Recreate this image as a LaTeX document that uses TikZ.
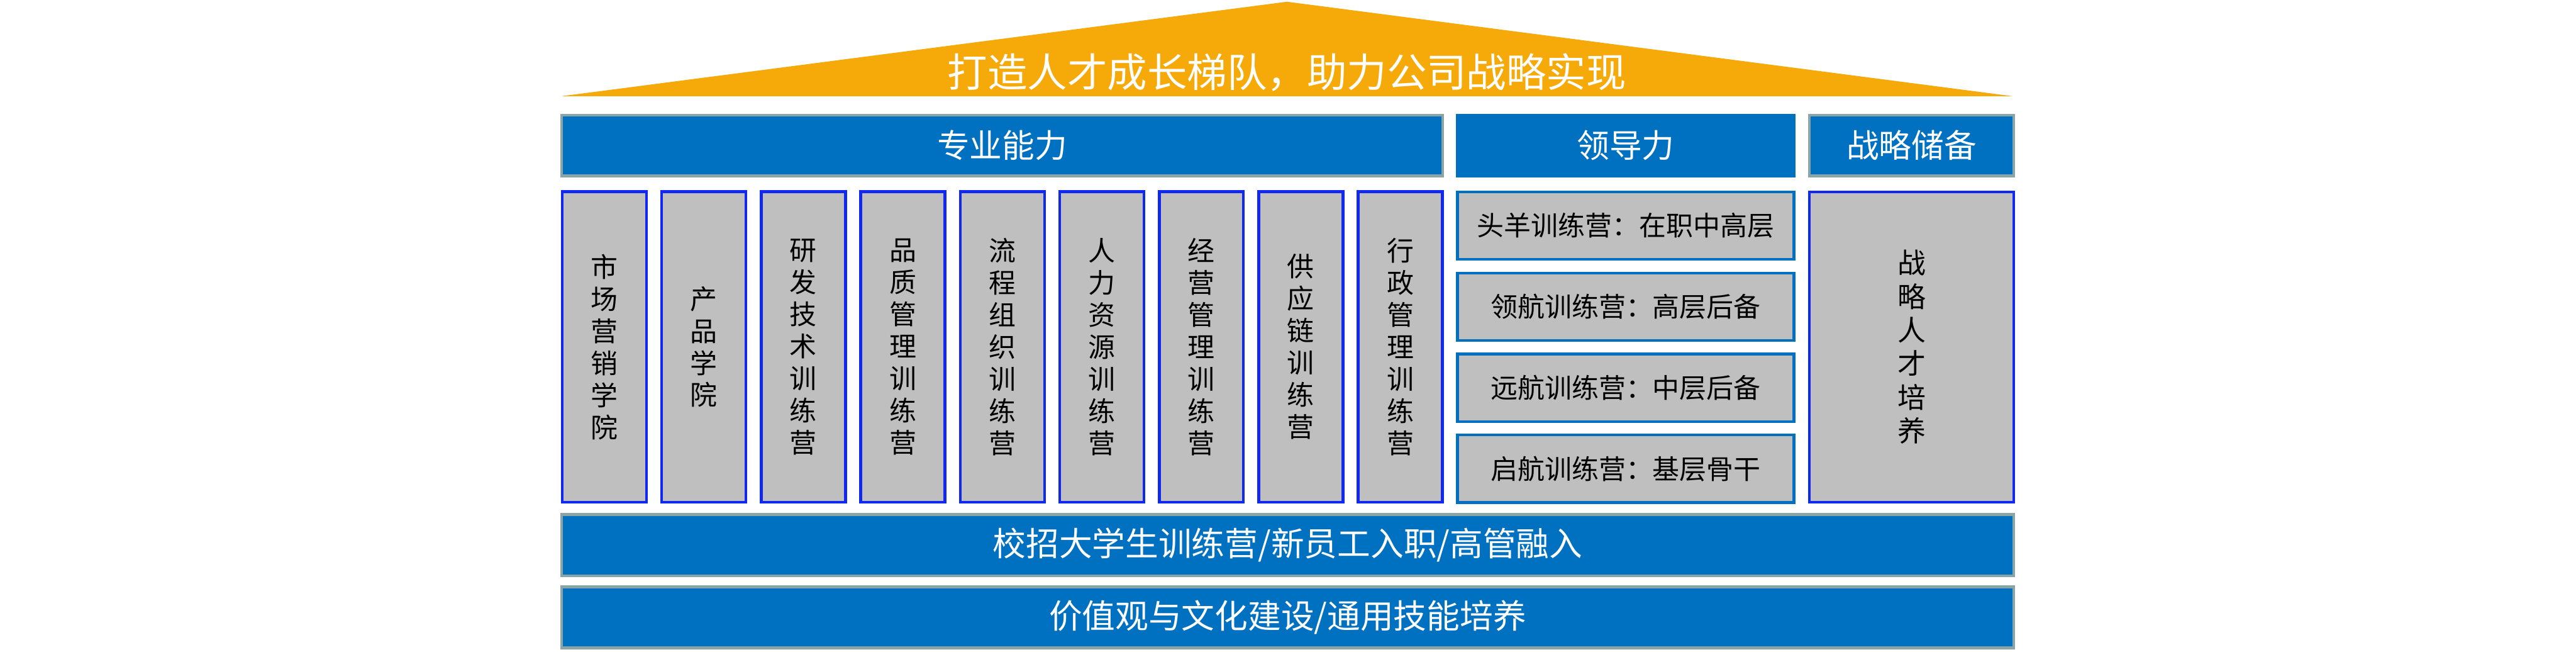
\documentclass[tikz,border=0pt]{standalone}
\usepackage{fontspec}
\setmainfont{Noto Sans CJK SC}

\definecolor{barblue}{RGB}{0,112,192}
\definecolor{bargray}{RGB}{139,165,166}
\definecolor{boxblue}{RGB}{16,40,240}
\definecolor{boxgray}{RGB}{191,191,191}
\definecolor{roof}{RGB}{245,170,10}

\begin{document}
\begin{tikzpicture}
  \tikzstyle{bar} = [draw=bargray, fill=barblue, line width=0.08cm, text=white, inner sep=0pt]
  \tikzstyle{colbox} = [draw=boxblue, fill=boxgray, line width=0.08cm, inner sep=0pt, align=center, minimum width=2.41cm, minimum height=8.88cm, font=\fontsize{22}{26.1}\selectfont]
  \tikzstyle{leadbox} = [draw=barblue, fill=boxgray, line width=0.08cm, inner sep=0pt, minimum width=9.63cm, minimum height=1.93cm, font=\fontsize{22}{26}\selectfont]
  \useasboundingbox (0, 0) rectangle (73.72, 18.63);
  % roof
  \fill[roof] (16.08, 15.88) -- (36.83, 18.58) -- (57.58, 15.88) -- cycle;
  \node[text=white, inner sep=0pt, font=\fontsize{32.5}{39}\selectfont] (goal) at (36.83, 16.56) {打造人才成长梯队，助力公司战略实现};
  % headers
  \node[bar, minimum width=25.22cm, minimum height=1.74cm, font=\fontsize{26.5}{32}\selectfont] (prof) at (28.68, 14.47) {专业能力};
  \node[bar, draw=barblue, minimum width=9.63cm, minimum height=1.74cm, font=\fontsize{26.5}{32}\selectfont] (lead) at (46.525, 14.47) {领导力};
  \node[bar, minimum width=5.85cm, minimum height=1.74cm, font=\fontsize{26.5}{32}\selectfont] (reserve) at (54.705, 14.47) {战略储备};
  % columns
  \foreach \lbl [count=\i from 0] in {{市\\场\\营\\销\\学\\院}, {产\\品\\学\\院}, {研\\发\\技\\术\\训\\练\\营}, {品\\质\\管\\理\\训\\练\\营}, {流\\程\\组\\织\\训\\练\\营}, {人\\力\\资\\源\\训\\练\\营}, {经\\营\\管\\理\\训\\练\\营}, {供\\应\\链\\训\\练\\营}, {行\\政\\管\\理\\训\\练\\营}}
    \node[colbox] (col\i) at (17.295 + 2.8475*\i, 8.71) {\lbl};
  \foreach \lbl [count=\j from 0] in {头羊训练营：在职中高层, 领航训练营：高层后备, 远航训练营：中层后备, 启航训练营：基层骨干}
    \node[leadbox] (camp\j) at (46.525, 12.175 - 2.317*\j) {\lbl};
  \node[colbox, minimum width=5.85cm, minimum height=8.87cm, font=\fontsize{23}{27.3}\selectfont] (talent) at (54.705, 8.705) {战\\略\\人\\才\\培\\养};
  % base
  \node[bar, minimum width=41.56cm, minimum height=1.76cm, font=\fontsize{27}{32}\selectfont] (campus) at (36.85, 3.04) {校招大学生训练营/新员工入职/高管融入};
  \node[bar, minimum width=41.56cm, minimum height=1.75cm, font=\fontsize{27}{32}\selectfont] (values) at (36.85, 0.975) {价值观与文化建设/通用技能培养};
\end{tikzpicture}
\end{document}
